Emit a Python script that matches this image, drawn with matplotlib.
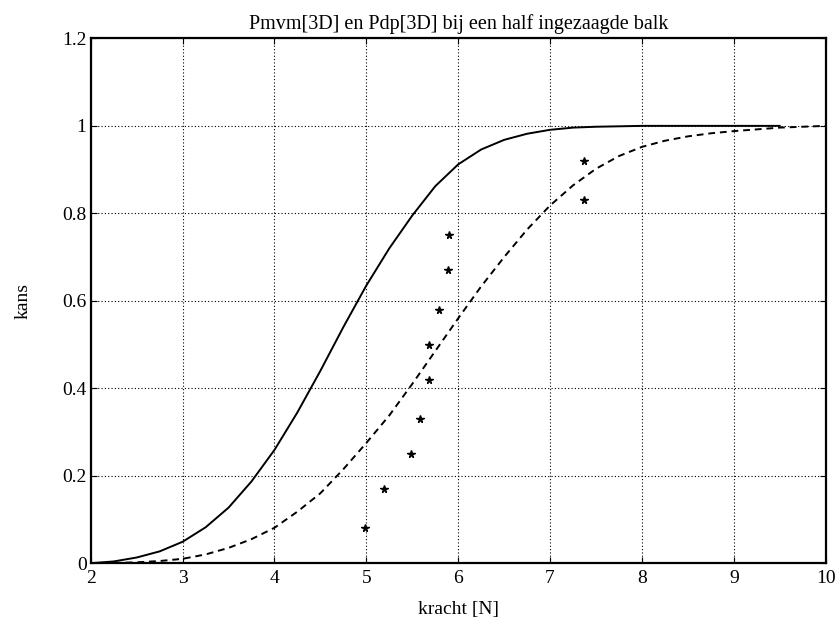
import matplotlib
matplotlib.use("Agg")
import matplotlib.pyplot as plt
from matplotlib.ticker import FixedLocator, FixedFormatter

plt.rcParams['font.family'] = ['Liberation Serif', 'DejaVu Serif']

# Solid curve (Pmvm[3D])
solid_x = [2.0, 2.25, 2.5, 2.75, 3.0, 3.25, 3.5, 3.75, 4.0, 4.25, 4.5, 4.75,
           5.0, 5.25, 5.5, 5.75, 6.0, 6.25, 6.5, 6.75, 7.0, 7.25, 7.5, 8.0, 9.0, 9.5]
solid_y = [0.000, 0.004, 0.013, 0.027, 0.049, 0.082, 0.127, 0.187, 0.259, 0.345, 0.440, 0.540,
           0.635, 0.720, 0.795, 0.862, 0.912, 0.946, 0.968, 0.982, 0.991, 0.996, 0.998, 1.000, 1.000, 1.000]

# Dashed curve (Pdp[3D])
dash_x = [2.0, 2.25, 2.5, 2.75, 3.0, 3.25, 3.5, 3.75, 4.0, 4.25, 4.5, 4.75,
          5.0, 5.25, 5.5, 5.75, 6.0, 6.25, 6.5, 6.75, 7.0, 7.25, 7.5, 7.75,
          8.0, 8.25, 8.5, 8.75, 9.0, 9.5, 10.0]
dash_y = [0.000, 0.0005, 0.002, 0.005, 0.010, 0.020, 0.035, 0.055, 0.081, 0.118, 0.160, 0.215,
          0.275, 0.338, 0.410, 0.485, 0.560, 0.633, 0.700, 0.763, 0.818, 0.864, 0.902, 0.931,
          0.952, 0.966, 0.976, 0.983, 0.988, 0.996, 1.000]

# Measured points (stars)
pts_x = [4.98, 5.19, 5.49, 5.58, 5.68, 5.68, 5.79, 5.89, 5.90, 7.37, 7.37]
pts_y = [0.08, 0.17, 0.25, 0.33, 0.42, 0.50, 0.58, 0.67, 0.75, 0.83, 0.92]

x_ticks = [2, 3, 4, 5, 6, 7, 8, 9, 10]
y_ticks = [0, 0.2, 0.4, 0.6, 0.8, 1.0, 1.2]
y_tick_labels = ["0", "0.2", "0.4", "0.6", "0.8", "1", "1.2"]

fig = plt.figure(figsize=(8.4, 6.4), dpi=100)
ax = fig.add_axes([0.108, 0.12, 0.875, 0.82])

ax.plot(solid_x, solid_y, color='black', linewidth=1.4, linestyle='-')
ax.plot(dash_x, dash_y, color='black', linewidth=1.4, linestyle=(0, (3.5, 2.5)))
ax.plot(pts_x, pts_y, linestyle='none', marker='*', color='black', markersize=5.5)

ax.set_xlim(2, 10)
ax.set_ylim(0, 1.2)
ax.xaxis.set_major_locator(FixedLocator(x_ticks))
ax.yaxis.set_major_locator(FixedLocator(y_ticks))
ax.yaxis.set_major_formatter(FixedFormatter(y_tick_labels))
ax.tick_params(direction='in', length=4, labelsize=14, top=True, right=True)
ax.tick_params(axis='x', pad=5)
ax.tick_params(axis='y', pad=3)
ax.grid(True, color='black', linestyle=(0, (1, 2)), linewidth=0.8)
for s in ax.spines.values():
    s.set_linewidth(1.6)
    s.set_color('black')

ax.set_title("Pmvm[3D] en Pdp[3D] bij een half ingezaagde balk", fontsize=14.5, pad=7)
ax.set_xlabel("kracht [N]", fontsize=14, labelpad=10)
ax.set_ylabel("kans", fontsize=14, labelpad=22)

fig.savefig("out.png", dpi=100)
